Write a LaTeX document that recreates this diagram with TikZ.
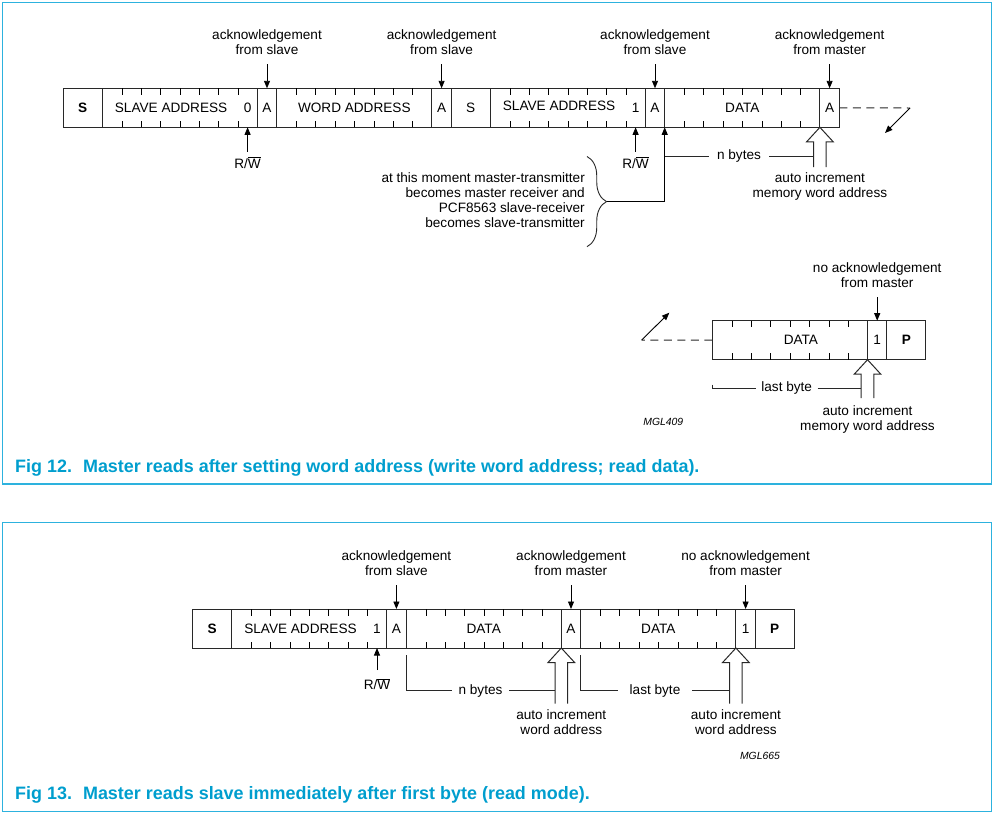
\documentclass[tikz,border=0pt]{standalone}
\usepackage{fontspec}
\setmainfont{Liberation Sans}
\usetikzlibrary{arrows.meta,calc,decorations.pathreplacing}
\definecolor{framec}{RGB}{45,178,222}
\definecolor{capc}{RGB}{0,158,206}
\definecolor{inkc}{RGB}{40,40,40}
\newcommand{\lblfont}{\fontsize{13.6}{15}\selectfont}
\newcommand{\capfont}{\fontsize{17.95}{20}\selectfont\bfseries}
\newcommand{\mglfont}{\fontsize{10.4}{12}\selectfont\itshape}
\newcommand{\RWbar}{R/$\overline{\hbox{W}}$}
\tikzset{
  cell/.style={draw=inkc,line width=1pt,minimum height=39pt,inner sep=0pt,outer sep=0pt,anchor=north west,font=\lblfont},
  bitone/.style={cell,minimum width=19.4pt},
  bittwo/.style={cell,minimum width=38.8pt},
  biteight/.style={cell,minimum width=155.2pt},
  lbl/.style={font=\lblfont,align=center,inner sep=0pt,text=black},
  tiparrow/.style={-{Triangle[length=7.5pt,width=6pt]},draw=black,line width=0.9pt},
  hollowarrow/.style={draw=inkc,line width=1pt,fill=white,line join=miter},
  pics/hollowup/.style={code={\draw[hollowarrow] (-6.3,#1) -- (-6.3,14.5) -- (-13.3,14.5) -- (0,0) -- (13.3,14.5) -- (6.3,14.5) -- (6.3,#1);}},
  dashline/.style={draw=inkc,line width=1pt,dash pattern=on 8pt off 5.5pt},
  thinline/.style={draw=inkc,line width=1pt},
  tickline/.style={draw=black,line width=1.2pt},
  frameline/.style={draw=framec,line width=1.5pt},
  caption/.style={anchor=base west,font=\capfont,text=capc,inner sep=0pt},
}
\begin{document}
\begin{tikzpicture}[x=1pt,y=-1pt]
\useasboundingbox (0,0) rectangle (995,815);
% frames
\draw[frameline] (2.7,2.7) rectangle (991.7,484);
\draw[frameline] (2.7,522.3) rectangle (991.7,811.7);

% ===== Fig 12 top bar =====
\node[bittwo] (s1) at (63.3,88.3) {\bfseries S};
\node[biteight] (sa1) at (s1.north east) {};
\node[bitone] (a1) at (sa1.north east) {A};
\node[biteight] (wa) at (a1.north east) {WORD ADDRESS};
\node[bitone] (a2) at (wa.north east) {A};
\node[bittwo] (s2) at (a2.north east) {S};
\node[biteight] (sa2) at (s2.north east) {};
\node[bitone] (a3) at (sa2.north east) {A};
\node[biteight] (d1) at (a3.north east) {DATA};
\node[bitone] (a4) at (d1.north east) {A};
\node[lbl] (sa1t) at ($(sa1.west)+(69,0)$) {SLAVE ADDRESS};
\node[lbl] (sa1b) at ($(sa1.east)+(-9.7,0)$) {0};
\node[lbl] (sa2t) at ($(sa2.west)+(69,-1.5)$) {SLAVE ADDRESS};
\node[lbl] (sa2b) at ($(sa2.east)+(-9.7,0)$) {1};

% acknowledgement labels
\node[lbl] (k1) at (a1.north |- 0,42) {acknowledgement\\from slave};
\node[lbl] (k2) at (a2.north |- 0,42) {acknowledgement\\from slave};
\node[lbl] (k3) at (a3.north |- 0,42) {acknowledgement\\from slave};
\node[lbl] (k4) at (a4.north |- 0,42) {acknowledgement\\from master};
\foreach \l/\c in {k1/a1,k2/a2,k3/a3,k4/a4}{
  \draw[tiparrow,shorten <=9.5pt] (\l) -- (\c.north);
}

% R/W
\coordinate (rw1p) at ($(sa1.south east)+(-9.7,0)$);
\coordinate (rw2p) at ($(sa2.south east)+(-9.7,0)$);
\node[lbl] (rw1) at (rw1p |- 0,162.5) {\RWbar};
\node[lbl] (rw2) at (rw2p |- 0,162.5) {\RWbar};
\draw[tiparrow,shorten <=5pt] (rw1) -- (rw1p);
\draw[tiparrow,shorten <=5pt] (rw2) -- (rw2p);

% brace note
\coordinate (brtop) at (587,156.5);
\coordinate (brbot) at (587,246.7);
\coordinate (brtip) at (606.5,201.6);
\draw[thinline,line width=0.9pt,decorate,decoration={brace,amplitude=19.5pt}] (brtop) -- (brbot);
\node[lbl,align=right,anchor=east] (note) at (585,200.5) {at this moment master-transmitter\\becomes master receiver and\\PCF8563 slave-receiver\\becomes slave-transmitter};
\draw[tiparrow] (brtip) -| (a3.south east);

% n bytes and hollow arrow
\node[lbl,inner xsep=8pt] (nb1) at (739,156.2) {n bytes};
\draw[thinline] (a3.south east |- nb1) -- (nb1.west);
\draw[thinline] (nb1.east) -- ($(d1.south east |- nb1)+(-6.3,0)$);
\pic at (d1.south east) {hollowup=39.7};
\node[lbl] (ai1) at (d1.south east |- 0,186) {auto increment\\memory word address};

% continuation
\coordinate (dend1) at (910,108);
\coordinate (dtip1) at (885,133);
\draw[dashline] (a4.east) -- (dend1);
\draw[tiparrow] (dend1) -- (dtip1);

% ===== Fig 12 lower bar =====
\node[biteight] (d2) at (712.3,320.7) {};
\node[lbl] (d2t) at ($(d2.center)+(11,0)$) {DATA};
\node[bitone] (n1) at (d2.north east) {1};
\node[bittwo] (p1) at (n1.north east) {\bfseries P};
\node[lbl] (k5) at (n1.north |- 0,274.8) {no acknowledgement\\from master};
\draw[tiparrow,shorten <=9.5pt] (k5) -- (n1.north);
\coordinate (dend2) at (641.7,340);
\coordinate (dtip2) at (669.3,312.7);
\draw[dashline] (d2.west) -- (dend2);
\draw[tiparrow] (dend2) -- (dtip2);
\pic at (d2.south east) {hollowup=38.3};
\coordinate (lb1s) at ($(d2.south west)+(0,25)$);
\node[lbl,inner xsep=5.5pt] (lb1) at (786.7,388.3) {last byte};
\draw[thinline] (lb1s) |- (lb1.west);
\draw[thinline] (lb1.east) -- ($(d2.south east |- lb1)+(-6.3,0)$);
\node[lbl] (ai2) at (d2.south east |- 0,419.2) {auto increment\\memory word address};
\node[font=\mglfont,inner sep=0pt] (mgl1) at (663.3,422.3) {MGL409};

\node[caption] (cap1) at (15,472.7) {Fig 12.\hspace{11pt}Master reads after setting word address (write word address; read data).};

% ===== Fig 13 =====
\node[bittwo] (s3) at (192.7,609) {\bfseries S};
\node[biteight] (sa3) at (s3.north east) {};
\node[bitone] (a5) at (sa3.north east) {A};
\node[biteight] (d3) at (a5.north east) {DATA};
\node[bitone] (a6) at (d3.north east) {A};
\node[biteight] (d4) at (a6.north east) {DATA};
\node[bitone] (n2) at (d4.north east) {1};
\node[bittwo] (p2) at (n2.north east) {\bfseries P};
\node[lbl] (sa3t) at ($(sa3.west)+(69,0)$) {SLAVE ADDRESS};
\node[lbl] (sa3b) at ($(sa3.east)+(-9.7,0)$) {1};

\node[lbl] (k6) at (a5.north |- 0,562.9) {acknowledgement\\from slave};
\node[lbl] (k7) at (a6.north |- 0,562.9) {acknowledgement\\from master};
\node[lbl] (k8) at (n2.north |- 0,562.9) {no acknowledgement\\from master};
\foreach \l/\c in {k6/a5,k7/a6,k8/n2}{
  \draw[tiparrow,shorten <=9.7pt] (\l) -- (\c.north);
}
\coordinate (rw3p) at ($(sa3.south east)+(-9.7,0)$);
\node[lbl] (rw3) at (rw3p |- 0,684) {\RWbar};
\draw[tiparrow,shorten <=8pt] (rw3) -- (rw3p);

\pic at (d3.south east) {hollowup=55.6};
\pic at (d4.south east) {hollowup=55.6};
\coordinate (nb2s) at ($(d3.south west)+(0.7,7.3)$);
\node[lbl,inner xsep=6.8pt] (nb2) at (480.5,690.7) {n bytes};
\draw[thinline] (nb2s) |- (nb2.west);
\draw[thinline] (nb2.east) -- ($(d3.south east |- nb2)+(-6.3,0)$);
\coordinate (lb2s) at ($(d4.south west)+(0,7.3)$);
\node[lbl,inner xsep=11.5pt] (lb2) at (655,690.7) {last byte};
\draw[thinline] (lb2s) |- (lb2.west);
\draw[thinline] (lb2.east) -- ($(d4.south east |- lb2)+(-6.3,0)$);
\node[lbl] (ai3) at (d3.south east |- 0,722.5) {auto increment\\word address};
\node[lbl] (ai4) at (d4.south east |- 0,722.5) {auto increment\\word address};
\node[font=\mglfont,inner sep=0pt] (mgl2) at (760,756) {MGL665};

\node[caption] (cap2) at (15,799.3) {Fig 13.\hspace{11pt}Master reads slave immediately after first byte (read mode).};

% bit ticks inside the 8-bit fields (snapped to pixel centres)
\foreach \fx/\fy in {102.1/88.3,276.7/88.3,490.1/88.3,664.7/88.3,712.3/320.7,231.5/609,406.1/609,580.7/609}{
  \foreach \k [evaluate=\k as \tx using {round(\fx+\k*19.4)+0.5}] in {1,...,7}{
    \draw[tickline] (\tx,\fy) -- (\tx,\fy+6.5);
    \draw[tickline] (\tx,\fy+39) -- (\tx,\fy+32.5);
  }
}
\end{tikzpicture}
\end{document}
